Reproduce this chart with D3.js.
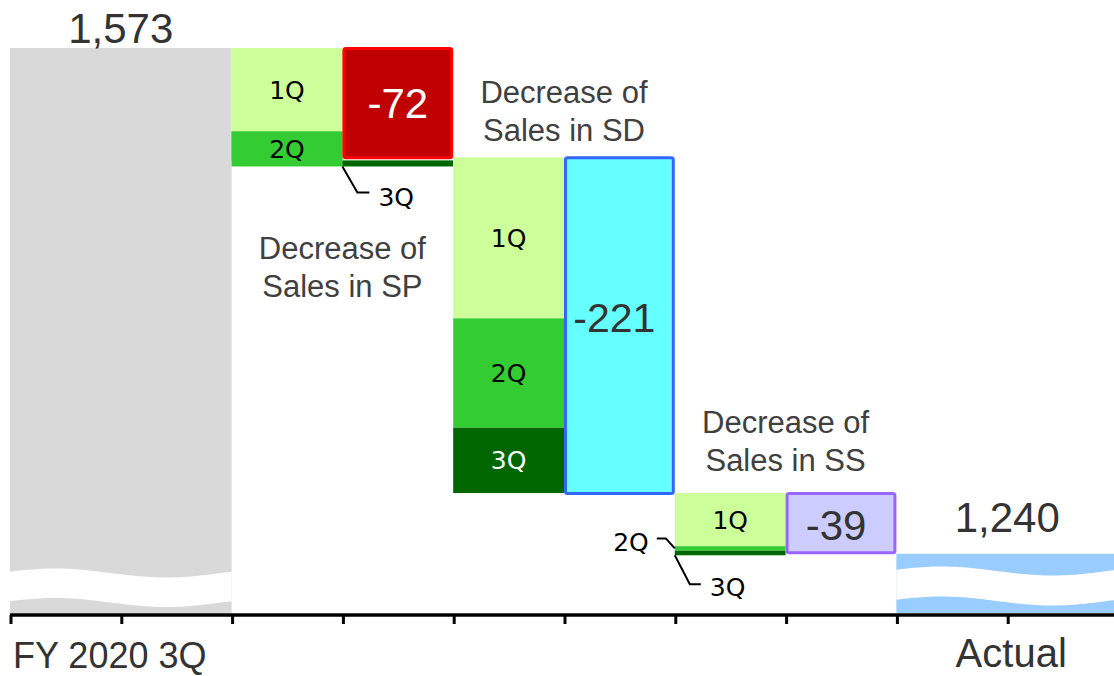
<!DOCTYPE html>
<html>
<head>
<meta charset="utf-8">
<script src="https://cdn.jsdelivr.net/npm/d3@7"></script>
<style>
  html, body { margin: 0; padding: 0; background: #fff; }
  svg { display: block; }
</style>
</head>
<body>
<script>
// ---------- data ----------
const slots = ["FY 2020 3Q", "base-2", "SP", "SP total", "SD", "SD total", "SS", "SS total", "Actual", "actual-2"];
const axisLabels = ["FY 2020 3Q", "Actual"];
const startValue = 1573;
const endValue = 1240;
const segments = ["SP", "SD", "SS"];
const segmentTotals = [-72, -221, -39];
const quarters = ["1Q", "2Q", "3Q"];
const q1Values = [55, 106, 35];
const q2Values = [19, 72, 3];
const q3Values = [4, 43, 3];
const segmentTitles = ["Decrease of\nSales in SP", "Decrease of\nSales in SD", "Decrease of\nSales in SS"];
const axisFloor = 1201;

// ---------- layout ----------
const W = 1114, H = 676;
const svg = d3.select("body").append("svg").attr("width", W).attr("height", H);

const x = d3.scaleBand().domain(slots).range([10, 1118]).paddingInner(0).paddingOuter(0);
const y = d3.scaleLinear().domain([axisFloor, startValue]).range([613, 48]);
const bw = x.bandwidth();

const sansFont = "'Liberation Sans', Arial, sans-serif";
const qFont = "'DejaVu Sans', Verdana, sans-serif";
const qColors = ["#ccff99", "#33cc33", "#006600"];
const qTextColors = ["#000", "#000", "#fff"];
const boxFill = ["#c00000", "#66ffff", "#ccccff"];
const boxStroke = ["#ff0000", "#3366ff", "#9966ff"];
const boxText = ["#fff", "#333", "#333"];
const boxTextShift = [[0, 0], [-5, -8], [-5, 2]];

// wave helper (white break band)
function waveBand(x0, x1, cTop, cBot, amp) {
  const n = 60, pts = [];
  const f = t => -amp * Math.sin(2 * Math.PI * t + 0.3);
  for (let i = 0; i <= n; i++) { const t = i / n; pts.push([x0 + t * (x1 - x0), cTop + f(t)]); }
  for (let i = n; i >= 0; i--) { const t = i / n; pts.push([x0 + t * (x1 - x0), cBot + f(t)]); }
  return d3.line()(pts) + "Z";
}

// ---------- start & end bars ----------
const baseX0 = x(slots[0]), baseX1 = x(slots[1]) + bw;
svg.append("rect").attr("x", baseX0).attr("y", y(startValue)).attr("width", baseX1 - baseX0)
  .attr("height", y(axisFloor) - y(startValue)).attr("fill", "#d9d9d9");
svg.append("path").attr("d", waveBand(baseX0, baseX1, y(axisFloor) - 40, y(axisFloor) - 10.5, 4.5)).attr("fill", "#fff");

const actX0 = x(slots[8]), actX1 = x(slots[9]) + bw;
svg.append("rect").attr("x", actX0).attr("y", y(endValue)).attr("width", actX1 - actX0)
  .attr("height", y(axisFloor) - y(endValue)).attr("fill", "#99ccff");
svg.append("path").attr("d", waveBand(actX0, actX1, y(axisFloor) - 42, y(axisFloor) - 12, 4.5)).attr("fill", "#fff");

svg.append("text").attr("x", (baseX0 + baseX1) / 2).attr("y", 43).attr("text-anchor", "middle")
  .attr("font-family", sansFont).attr("font-size", 42).attr("fill", "#333").text(d3.format(",")(startValue));
svg.append("text").attr("x", (actX0 + actX1) / 2).attr("y", 532).attr("text-anchor", "middle")
  .attr("font-family", sansFont).attr("font-size", 42).attr("fill", "#333").text(d3.format(",")(endValue));

// ---------- segments ----------
let level = startValue;
segments.forEach((seg, i) => {
  const sx = x(seg), tx = x(seg + " total");
  const qv = [q1Values[i], q2Values[i], q3Values[i]];
  const segStart = level;
  let cur = segStart;
  const qRects = [];
  qv.forEach((v, j) => {
    qRects.push({ top: cur, bottom: cur - v, j });
    cur -= v;
  });
  const stackEnd = cur;
  // quarter bars
  qRects.forEach(r => {
    if (i === 0 && r.j === 2) return; // SP 3Q sits in the total column
    svg.append("rect").attr("x", sx).attr("y", y(r.top)).attr("width", bw)
      .attr("height", y(r.bottom) - y(r.top)).attr("fill", qColors[r.j]);
  });
  if (i === 0) {
    // 2Q of SP extends to stack bottom, 3Q strip under the total box
    svg.append("rect").attr("x", sx).attr("y", y(qRects[1].top)).attr("width", bw)
      .attr("height", y(stackEnd) - y(qRects[1].top)).attr("fill", qColors[1]);
    svg.append("rect").attr("x", tx).attr("y", y(qRects[2].top)).attr("width", bw)
      .attr("height", y(qRects[2].bottom) - y(qRects[2].top)).attr("fill", qColors[2]);
  }
  // total box
  const tEnd = segStart + segmentTotals[i];
  svg.append("rect").attr("x", tx + 1.5).attr("y", y(segStart) + 0.5).attr("width", bw - 3)
    .attr("height", y(tEnd) - y(segStart)).attr("rx", 2)
    .attr("fill", boxFill[i]).attr("stroke", boxStroke[i]).attr("stroke-width", 3);
  svg.append("text").attr("x", tx + bw / 2 + boxTextShift[i][0])
    .attr("y", (y(segStart) + y(tEnd)) / 2 + boxTextShift[i][1])
    .attr("dy", "0.36em").attr("text-anchor", "middle").attr("font-family", sansFont)
    .attr("font-size", i === 1 ? 41 : 42).attr("fill", boxText[i]).text(segmentTotals[i]);

  // quarter labels
  qRects.forEach(r => {
    let bottom = r.bottom;
    if (i === 0 && r.j === 1) bottom = stackEnd;
    const hgt = y(bottom) - y(r.top);
    if (hgt < 20) return;
    svg.append("text").attr("x", sx + bw / 2).attr("y", (y(r.top) + y(bottom)) / 2)
      .attr("dy", "0.36em").attr("text-anchor", "middle").attr("font-family", qFont)
      .attr("font-size", 25).attr("fill", qTextColors[r.j]).text(quarters[r.j]);
  });

  // segment titles
  const lines = segmentTitles[i].split("\n");
  const lineH = 38;
  let firstY;
  if (i === 0) firstY = y(stackEnd) + 81;
  else firstY = y(segStart) - (i === 1 ? 28 : 33) - lineH * (lines.length - 1);
  lines.forEach((ln, k) => {
    svg.append("text").attr("x", tx).attr("y", firstY + k * lineH).attr("dy", "0.36em")
      .attr("text-anchor", "middle").attr("font-family", sansFont).attr("font-size", 31)
      .attr("fill", "#404040").text(ln);
  });

  level = tEnd;
});

// ---------- leader lines for thin quarters ----------
const lineG = svg.append("g").attr("fill", "none").attr("stroke", "#000").attr("stroke-width", 2);
// SP 3Q
{
  const sx = x("SP total");
  const yb = y(startValue - q1Values[0] - q2Values[0] - q3Values[0]);
  lineG.append("path").attr("d", `M${sx},${yb} L${sx + 15},${yb + 26} L${sx + 27},${yb + 26}`);
  svg.append("text").attr("x", sx + 36).attr("y", yb + 31).attr("dy", "0.36em").attr("font-family", qFont)
    .attr("font-size", 25).attr("fill", "#000").text("3Q");
}
// SS 2Q and 3Q
{
  const sx = x("SS");
  const ssStart = startValue + segmentTotals[0] + segmentTotals[1];
  const y2 = y(ssStart - q1Values[2] - q2Values[2] / 2);
  const y3 = y(ssStart - q1Values[2] - q2Values[2] - q3Values[2]);
  lineG.append("path").attr("d", `M${sx - 18},${y2 - 10} L${sx - 9},${y2 - 10} L${sx},${y2}`);
  svg.append("text").attr("x", sx - 26).attr("y", y2 - 6).attr("dy", "0.36em").attr("text-anchor", "end")
    .attr("font-family", qFont).attr("font-size", 25).attr("fill", "#000").text("2Q");
  lineG.append("path").attr("d", `M${sx},${y3} L${sx + 15},${y3 + 29} L${sx + 26},${y3 + 29}`);
  svg.append("text").attr("x", sx + 35).attr("y", y3 + 32).attr("dy", "0.36em")
    .attr("font-family", qFont).attr("font-size", 25).attr("fill", "#000").text("3Q");
}

// ---------- axis ----------
const axisY = 615;
svg.append("line").attr("x1", 10).attr("x2", W).attr("y1", axisY).attr("y2", axisY)
  .attr("stroke", "#000").attr("stroke-width", 3.5);
const tickPos = slots.map(s => x(s)).concat([x.range()[1]]);
svg.selectAll(".tick").data(tickPos).enter().append("line")
  .attr("x1", d => d + 1).attr("x2", d => d + 1).attr("y1", axisY).attr("y2", axisY + 9)
  .attr("stroke", "#000").attr("stroke-width", 3);

svg.append("text").attr("x", baseX0 + 3).attr("y", 668).attr("font-family", sansFont)
  .attr("font-size", 36).attr("fill", "#333").text(axisLabels[0]);
svg.append("text").attr("x", (actX0 + actX1) / 2 + 4).attr("y", 667).attr("text-anchor", "middle")
  .attr("font-family", sansFont).attr("font-size", 40).attr("fill", "#333").text(axisLabels[1]);
</script>
</body>
</html>
